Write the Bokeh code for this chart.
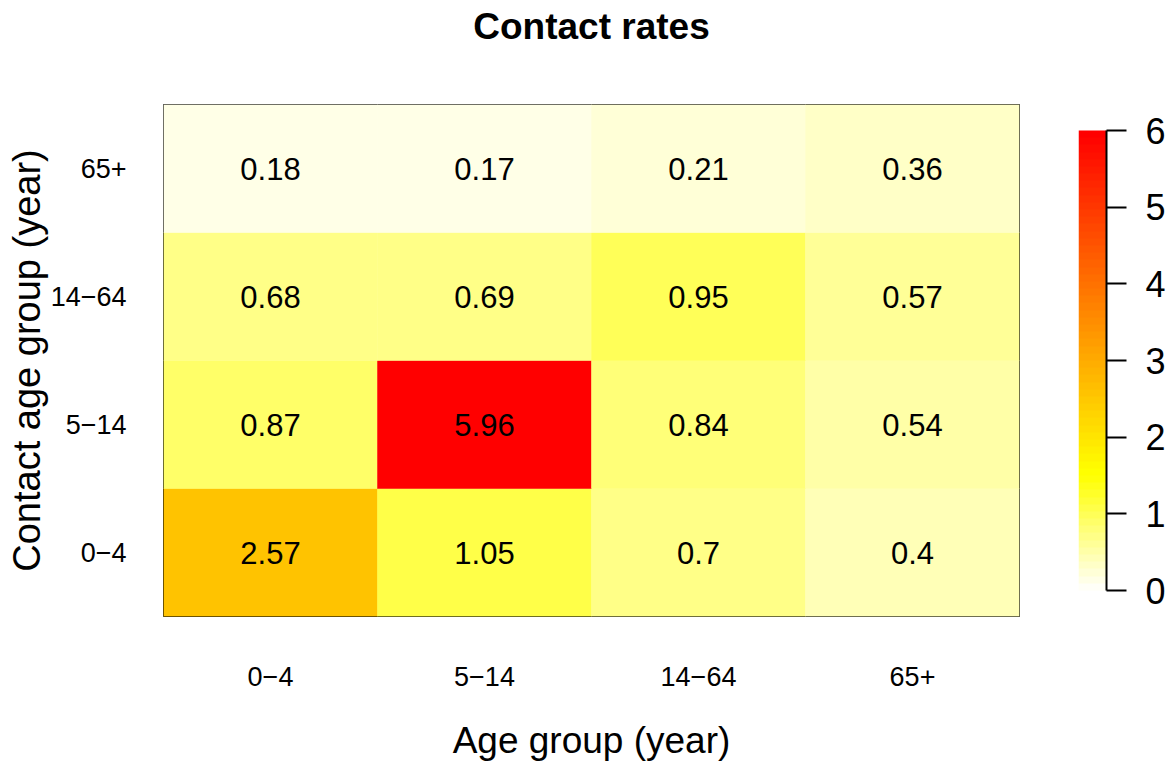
import colorsys
import numpy as np
from bokeh.plotting import figure
from bokeh.models import (LinearColorMapper, ColumnDataSource, FixedTicker, FactorRange,
                          Range1d, CategoricalAxis)
from bokeh.layouts import row
from bokeh.embed import file_html
from bokeh.resources import INLINE
from bokeh.core.properties import value

# ---- data ----
age_groups = ["0\u22124", "5\u221214", "14\u221264", "65+"]        # x axis (left -> right)
contact_groups = ["0\u22124", "5\u221214", "14\u221264", "65+"]    # y axis (bottom -> top)
# contact rates, one list per contact age group, values along age_groups
rates_0_4 = [2.57, 1.05, 0.7, 0.4]
rates_5_14 = [0.87, 5.96, 0.84, 0.54]
rates_14_64 = [0.68, 0.69, 0.95, 0.57]
rates_65p = [0.18, 0.17, 0.21, 0.36]
colorbar_ticks = [0, 1, 2, 3, 4, 5, 6]
zlim = (0, 6)

FONT = "Liberation Sans"
H = 768
TOP, BOTTOM = 104, 152


def heat_colors(n):
    # R's heat.colors(n)
    j = n // 4
    i = n - j
    cols = []
    for h in np.linspace(0, 1 / 6, i):
        cols.append(colorsys.hsv_to_rgb(h, 1, 1))
    for s in np.linspace(1 - 1 / (2 * j), 1 / (2 * j), j):
        cols.append(colorsys.hsv_to_rgb(1 / 6, s, 1))
    return ["#%02x%02x%02x" % (round(r * 255), round(g * 255), round(b * 255)) for r, g, b in cols]


palette = heat_colors(64)[::-1]
mapper = LinearColorMapper(palette=palette, low=zlim[0], high=zlim[1])

xs, ys, vals = [], [], []
for cg, rates in zip(contact_groups, [rates_0_4, rates_5_14, rates_14_64, rates_65p]):
    for ag, v in zip(age_groups, rates):
        xs.append(ag)
        ys.append(cg)
        vals.append(v)
src = ColumnDataSource(dict(age=xs, contact=ys, rate=vals, label=[str(v) for v in vals]))

p = figure(width=1048, height=H,
           x_range=FactorRange(*age_groups), y_range=FactorRange(*contact_groups),
           output_backend="svg", toolbar_location=None,
           min_border_left=163, min_border_right=29, min_border_top=TOP, min_border_bottom=BOTTOM)
p.background_fill_color = "white"
p.border_fill_color = "white"
p.outline_line_color = "black"
p.outline_line_width = 1
p.grid.visible = False

p.rect(x="age", y="contact", width=1, height=1, source=src,
       fill_color={"field": "rate", "transform": mapper},
       line_color={"field": "rate", "transform": mapper}, line_width=0.5)
p.text(x="age", y="contact", text="label", source=src,
       text_align="center", text_baseline="middle",
       text_font=value(FONT), text_font_size="31px", text_color="black")

for ax in (p.xaxis[0], p.yaxis[0]):
    ax.axis_line_color = None
    ax.major_tick_line_color = None
    ax.major_tick_out = 0
    ax.minor_tick_line_color = None
    ax.major_label_text_font = FONT
    ax.major_label_text_font_size = "27px"
    ax.major_label_text_color = "black"
    ax.axis_label_text_font = FONT
    ax.axis_label_text_font_style = "normal"
    ax.axis_label_text_color = "black"

p.xaxis.axis_label = "Age group (year)"
p.xaxis.axis_label_text_font_size = "37px"
p.xaxis.major_label_standoff = 50
p.xaxis.axis_label_standoff = 31
p.yaxis.axis_label = "Contact age group (year)"
p.yaxis.axis_label_text_font_size = "38px"
p.yaxis.major_label_standoff = 37
p.yaxis.axis_label_standoff = 0

# title as the label of an empty axis above the frame
title_axis = CategoricalAxis(axis_label="Contact rates")
title_axis.axis_line_color = None
title_axis.major_tick_line_color = None
title_axis.major_tick_out = 0
title_axis.major_tick_in = 0
title_axis.minor_tick_line_color = None
title_axis.major_label_standoff = 0
title_axis.major_label_text_font_size = "0px"
title_axis.major_label_text_alpha = 0
title_axis.axis_label_text_font = FONT
title_axis.axis_label_text_font_size = "37px"
title_axis.axis_label_text_font_style = "bold"
title_axis.axis_label_text_color = "black"
title_axis.axis_label_standoff = 58
p.add_layout(title_axis, "above")

# ---- colour bar ----
bar_top, bar_bottom = 130, 590            # pixel extent of the bar inside the frame
frame_top, frame_bottom = TOP, H - BOTTOM
upp = (zlim[1] - zlim[0]) / (bar_bottom - bar_top)
cb_range = Range1d(zlim[0] - (frame_bottom - bar_bottom) * upp, zlim[1] + (bar_top - frame_top) * upp)

cb = figure(width=120, height=H, x_range=Range1d(0, 1), y_range=cb_range,
            y_axis_location="right", output_backend="svg", toolbar_location=None,
            min_border_left=30, min_border_right=60, min_border_top=TOP, min_border_bottom=BOTTOM)
cb.background_fill_color = "white"
cb.border_fill_color = "white"
cb.outline_line_color = None
cb.grid.visible = False
cb.xaxis.visible = False
grad = np.linspace(zlim[0], zlim[1], 256).reshape(-1, 1)
cb.image(image=[grad], x=0, y=zlim[0], dw=1, dh=zlim[1] - zlim[0], color_mapper=mapper)
ya = cb.yaxis[0]
ya.bounds = zlim
ya.ticker = FixedTicker(ticks=colorbar_ticks)
ya.major_tick_out = 20
ya.major_tick_in = 0
ya.minor_tick_line_color = None
ya.axis_line_color = "black"
ya.axis_line_width = 2
ya.major_tick_line_width = 2
ya.major_tick_line_color = "black"
ya.major_label_text_font = FONT
ya.major_label_text_font_size = "36px"
ya.major_label_text_color = "black"
ya.major_label_standoff = 19

layout = row(p, cb)
open("out.html", "w").write(file_html(layout, INLINE))
